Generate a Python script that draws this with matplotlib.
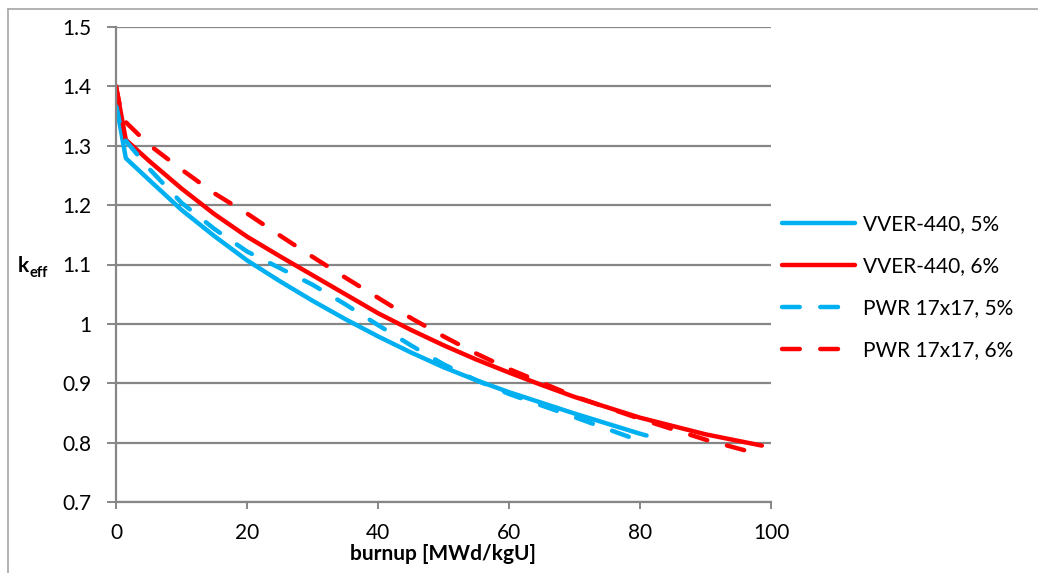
import matplotlib
matplotlib.use("Agg")
import matplotlib.pyplot as plt
from matplotlib.lines import Line2D

# burnup [MWd/kgU] and k_eff for each fuel case
burnup_vver5 = [0, 1.5, 5, 10, 15, 20, 25, 30, 35, 40, 45, 50, 55, 60, 70, 80, 81]
keff_vver5 = [1.372, 1.279, 1.243, 1.192, 1.148, 1.107, 1.072, 1.039, 1.008, 0.979,
              0.952, 0.927, 0.905, 0.885, 0.849, 0.815, 0.812]

burnup_vver6 = [0, 1.5, 5, 10, 15, 20, 25, 30, 35, 40, 45, 50, 55, 60, 65, 70, 80, 90, 98.6]
keff_vver6 = [1.40, 1.31, 1.275, 1.228, 1.185, 1.147, 1.114, 1.082, 1.05, 1.018,
              0.99, 0.964, 0.94, 0.918, 0.897, 0.877, 0.842, 0.814, 0.795]

burnup_pwr5 = [0, 1, 5, 10, 15, 20, 25, 30, 35, 40, 45, 50, 55, 60, 70, 80, 80.5]
keff_pwr5 = [1.37, 1.315, 1.262, 1.204, 1.16, 1.122, 1.094, 1.066, 1.033, 0.998,
             0.964, 0.932, 0.905, 0.882, 0.843, 0.803, 0.801]

burnup_pwr6 = [0, 1, 5, 10, 15, 20, 25, 30, 35, 40, 45, 50, 55, 60, 70, 80, 90, 98]
keff_pwr6 = [1.40, 1.345, 1.302, 1.26, 1.22, 1.186, 1.149, 1.113, 1.078, 1.044,
             1.01, 0.979, 0.95, 0.924, 0.878, 0.84, 0.805, 0.781]

labels = ["VVER-440, 5%", "VVER-440, 6%", "PWR 17x17, 5%", "PWR 17x17, 6%"]
yticks = [0.7, 0.8, 0.9, 1, 1.1, 1.2, 1.3, 1.4, 1.5]
xticks = [0, 20, 40, 60, 80, 100]

BLUE = "#00B0F0"
RED = "#FF0000"
GRID = "#868686"

plt.rcParams["font.family"] = ["Lato", "DejaVu Sans"]

W, H = 1038, 573
fig = plt.figure(figsize=(W / 100, H / 100), dpi=100)
ax = fig.add_axes([116 / W, 1 - 502 / H, (771 - 116) / W, (502 - 27) / H])

lw = 3.2
dash = (4.0, 4.6)
ax.plot(burnup_vver5, keff_vver5, color=BLUE, lw=lw, label=labels[0],
        solid_capstyle="round", solid_joinstyle="round")
ax.plot(burnup_vver6, keff_vver6, color=RED, lw=lw, label=labels[1],
        solid_capstyle="round", solid_joinstyle="round")
ax.plot(burnup_pwr5, keff_pwr5, color=BLUE, lw=lw, label=labels[2],
        dashes=dash, dash_capstyle="round")
ax.plot(burnup_pwr6, keff_pwr6, color=RED, lw=lw, label=labels[3],
        dashes=dash, dash_capstyle="round")

ax.set_xlim(0, 100)
ax.set_ylim(0.7, 1.5)
ax.set_xticks(xticks)
ax.set_yticks(yticks)
ax.set_xticklabels([str(t) for t in xticks])
ax.set_yticklabels([f"{t:g}" for t in yticks])
ax.yaxis.grid(True, color=GRID, lw=1.6)
ax.set_axisbelow(True)
for side in ("top", "right"):
    ax.spines[side].set_visible(False)
for side in ("left", "bottom"):
    ax.spines[side].set_color(GRID)
    ax.spines[side].set_linewidth(1.6)
ax.tick_params(axis="y", direction="out", length=6.5, width=1.4, color=GRID,
               labelsize=15, pad=11)
ax.tick_params(axis="x", direction="out", length=5, width=1.4, color=GRID,
               labelsize=15, pad=10)

ax.set_xlabel("burnup [MWd/kgU]", fontsize=15, fontweight="bold", labelpad=1)
fig.text(18 / W, 1 - 266 / H, "k", fontsize=15, fontweight="bold", va="center")
fig.text(29 / W, 1 - 273 / H, "eff", fontsize=10.5, fontweight="bold", va="center")

ax.legend(loc="upper left", bbox_to_anchor=(772 / W, 1 - 204 / H),
          bbox_transform=fig.transFigure, frameon=False, fontsize=15,
          handlelength=3.5, handletextpad=0.35, labelspacing=1.05, borderpad=0)

# outer chart frame
fig.add_artist(Line2D([8 / W, 8 / W], [0, 1 - 9 / H], color="#a6a6a6", lw=1.2,
                      transform=fig.transFigure))
fig.add_artist(Line2D([8 / W, 1], [1 - 9 / H, 1 - 9 / H], color="#a6a6a6", lw=1.2,
                      transform=fig.transFigure))

fig.savefig("out.png", dpi=100)
